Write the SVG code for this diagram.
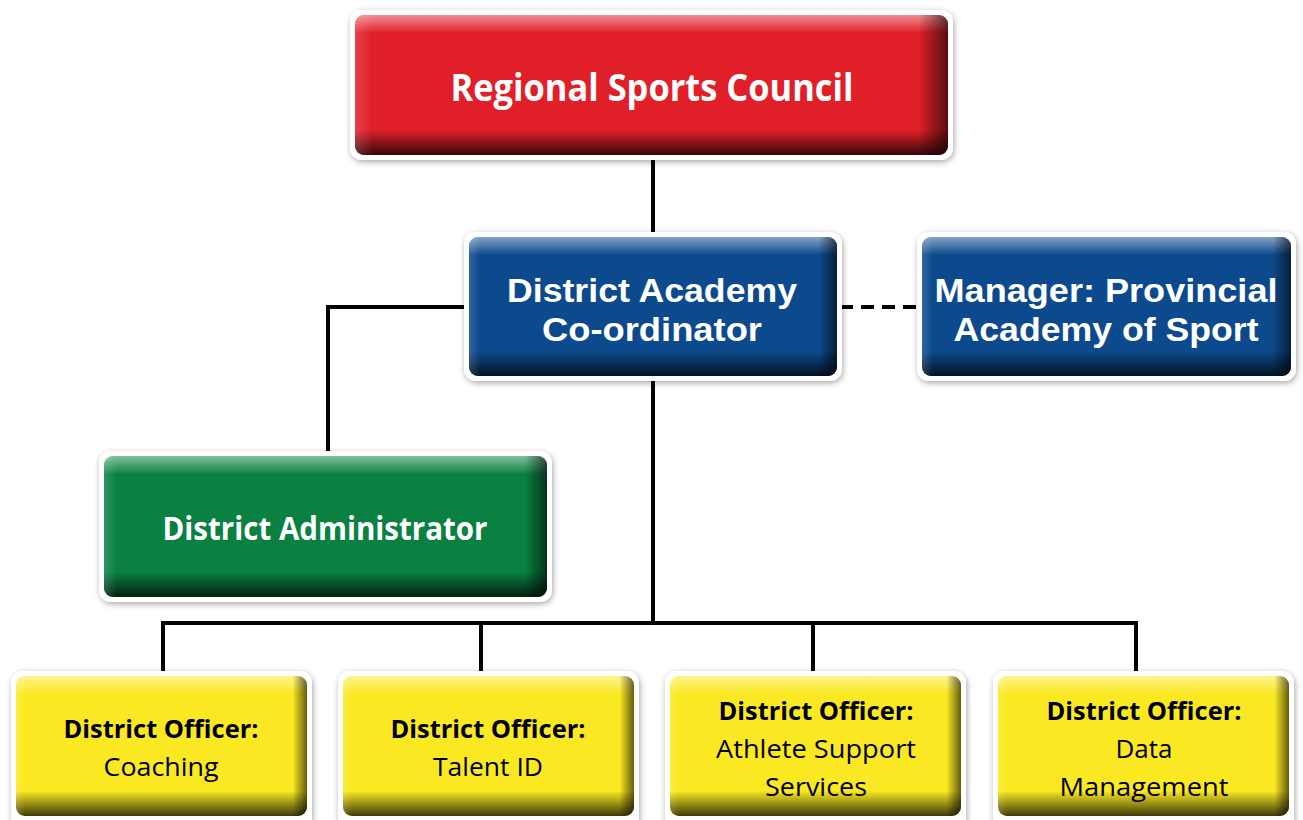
<svg xmlns="http://www.w3.org/2000/svg" width="1303" height="820" viewBox="0 0 1303 820">
<defs>
<filter id="sh" x="-5%" y="-10%" width="110%" height="125%">
<feGaussianBlur in="SourceAlpha" stdDeviation="3"/>
<feOffset dx="1" dy="2" result="b"/>
<feComponentTransfer><feFuncA type="linear" slope="0.35"/></feComponentTransfer>
<feMerge><feMergeNode/><feMergeNode in="SourceGraphic"/></feMerge>
</filter>
<linearGradient id="gv" x1="0" y1="0" x2="0" y2="1">
<stop offset="0" stop-color="#fff" stop-opacity="0.5"/>
<stop offset="0.13" stop-color="#fff" stop-opacity="0"/>
<stop offset="0.82" stop-color="#000" stop-opacity="0"/>
<stop offset="1" stop-color="#000" stop-opacity="0.75"/>
</linearGradient>
<linearGradient id="gh" x1="0" y1="0" x2="1" y2="0">
<stop offset="0" stop-color="#fff" stop-opacity="0.15"/>
<stop offset="0.03" stop-color="#fff" stop-opacity="0"/>
<stop offset="0.95" stop-color="#000" stop-opacity="0"/>
<stop offset="1" stop-color="#000" stop-opacity="0.6"/>
</linearGradient>
</defs>
<style>
.o{fill:#fff;filter:url(#sh)}
.v{fill:url(#gv)}
.h{fill:url(#gh)}
.t{font-family:"Open Sans","Liberation Sans",sans-serif;font-weight:bold;fill:#fff;text-anchor:middle}
.t2{font-family:"Liberation Sans",Arial,sans-serif;font-weight:bold;fill:#fff;text-anchor:middle;font-size:33px}
.y{font-family:"Open Sans","Liberation Sans",sans-serif;fill:#000;text-anchor:middle;font-size:25px}
.yb{font-weight:bold}
.c{stroke:#000;stroke-width:4;fill:none}
</style>
<rect width="1303" height="820" fill="#fff"/>
<g id="connectors">
<path class="c" d="M653 158V235M653 378V623M163 623H1136M163 621V673M481 621V673M813 621V673M1136 621V673M466 307H328V453"/>
<path class="c" d="M840 307H920" stroke-dasharray="13,8"/>
</g>
<g id="n-rsc">
<rect class="o" x="350" y="10" width="603" height="150" rx="12"/>
<rect x="355" y="15" width="593" height="140" rx="9" fill="#E01F28"/>
<rect class="v" x="355" y="15" width="593" height="140" rx="9"/>
<rect class="h" x="355" y="15" width="593" height="140" rx="9"/>
<text class="t" x="652" y="101" font-size="38" textLength="403" lengthAdjust="spacingAndGlyphs">Regional Sports Council</text>
</g>
<g id="n-dac">
<rect class="o" x="464" y="232" width="378" height="149" rx="12"/>
<rect x="469" y="237" width="368" height="139" rx="9" fill="#0D4A8D"/>
<rect class="v" x="469" y="237" width="368" height="139" rx="9"/>
<rect class="h" x="469" y="237" width="368" height="139" rx="9"/>
<text class="t2" x="652" y="302" textLength="290" lengthAdjust="spacingAndGlyphs">District Academy</text>
<text class="t2" x="652" y="341" textLength="220" lengthAdjust="spacingAndGlyphs">Co-ordinator</text>
</g>
<g id="n-mpa">
<rect class="o" x="917" y="232" width="379" height="149" rx="12"/>
<rect x="922" y="237" width="369" height="139" rx="9" fill="#0D4A8D"/>
<rect class="v" x="922" y="237" width="369" height="139" rx="9"/>
<rect class="h" x="922" y="237" width="369" height="139" rx="9"/>
<text class="t2" x="1106" y="302" textLength="343" lengthAdjust="spacingAndGlyphs">Manager: Provincial</text>
<text class="t2" x="1106" y="341" textLength="305" lengthAdjust="spacingAndGlyphs">Academy of Sport</text>
</g>
<g id="n-da">
<rect class="o" x="99" y="451" width="453" height="151" rx="12"/>
<rect x="104" y="456" width="443" height="141" rx="9" fill="#0A8141"/>
<rect class="v" x="104" y="456" width="443" height="141" rx="9"/>
<rect class="h" x="104" y="456" width="443" height="141" rx="9"/>
<text class="t" x="325" y="540" font-size="32" textLength="325" lengthAdjust="spacingAndGlyphs">District Administrator</text>
</g>
<g id="n-coach">
<rect class="o" x="11" y="671" width="301" height="160" rx="12"/>
<rect x="16" y="676" width="291" height="140" rx="9" fill="#FAE922"/>
<rect class="v" x="16" y="676" width="291" height="140" rx="9"/>
<rect class="h" x="16" y="676" width="291" height="140" rx="9"/>
<text class="y yb" x="161" y="738" textLength="195" lengthAdjust="spacingAndGlyphs">District Officer:</text>
<text class="y" x="161" y="776" textLength="115" lengthAdjust="spacingAndGlyphs">Coaching</text>
</g>
<g id="n-talent">
<rect class="o" x="338" y="671" width="301" height="160" rx="12"/>
<rect x="343" y="676" width="291" height="140" rx="9" fill="#FAE922"/>
<rect class="v" x="343" y="676" width="291" height="140" rx="9"/>
<rect class="h" x="343" y="676" width="291" height="140" rx="9"/>
<text class="y yb" x="488" y="738" textLength="195" lengthAdjust="spacingAndGlyphs">District Officer:</text>
<text class="y" x="488" y="776" textLength="110" lengthAdjust="spacingAndGlyphs">Talent ID</text>
</g>
<g id="n-athlete">
<rect class="o" x="665" y="671" width="301" height="160" rx="12"/>
<rect x="670" y="676" width="291" height="140" rx="9" fill="#FAE922"/>
<rect class="v" x="670" y="676" width="291" height="140" rx="9"/>
<rect class="h" x="670" y="676" width="291" height="140" rx="9"/>
<text class="y yb" x="816" y="720" textLength="195" lengthAdjust="spacingAndGlyphs">District Officer:</text>
<text class="y" x="816" y="758" textLength="200" lengthAdjust="spacingAndGlyphs">Athlete Support</text>
<text class="y" x="816" y="796" textLength="102" lengthAdjust="spacingAndGlyphs">Services</text>
</g>
<g id="n-data">
<rect class="o" x="993" y="671" width="301" height="160" rx="12"/>
<rect x="998" y="676" width="291" height="140" rx="9" fill="#FAE922"/>
<rect class="v" x="998" y="676" width="291" height="140" rx="9"/>
<rect class="h" x="998" y="676" width="291" height="140" rx="9"/>
<text class="y yb" x="1144" y="720" textLength="195" lengthAdjust="spacingAndGlyphs">District Officer:</text>
<text class="y" x="1144" y="758" textLength="57" lengthAdjust="spacingAndGlyphs">Data</text>
<text class="y" x="1144" y="796" textLength="169" lengthAdjust="spacingAndGlyphs">Management</text>
</g>
</svg>
